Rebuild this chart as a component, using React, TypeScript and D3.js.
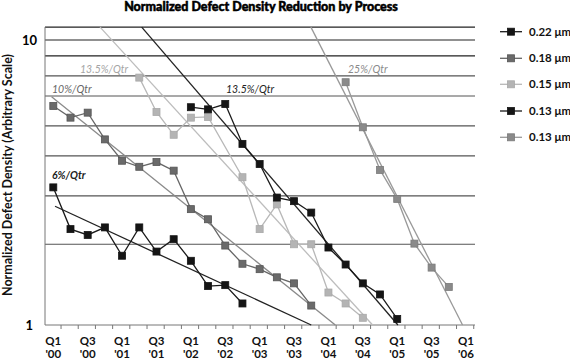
import React from "react";
import * as d3 from "d3";

// ---- data ----
const quarterLabels = ["Q1", "Q3", "Q1", "Q3", "Q1", "Q3", "Q1", "Q3", "Q1", "Q3", "Q1", "Q3", "Q1"];
const yearLabels = ["'00", "'00", "'01", "'01", "'02", "'02", "'03", "'03", "'04", "'04", "'05", "'05", "'06"];
const gridValues = [1.92, 2.84, 3.92, 5.0, 6.36, 7.48, 8.79, 10, 11.1];

const q022 = [0, 1, 2, 3, 4, 5, 6, 7, 8, 9, 10, 11];
const v022 = [3.04, 2.17, 2.07, 2.2, 1.75, 2.2, 1.81, 2.0, 1.68, 1.37, 1.38, 1.19];

const q018 = [0, 1, 2, 3, 4, 5, 6, 7, 8, 9, 10, 11, 12, 13, 14, 15];
const v018 = [5.87, 5.34, 5.56, 4.48, 3.77, 3.59, 3.73, 3.48, 2.55, 2.35, 1.9, 1.64, 1.57, 1.47, 1.4, 1.17];

const q015 = [5, 6, 7, 8, 9, 11, 12, 13, 14, 15, 16, 17, 18];
const v015 = [7.38, 5.59, 4.65, 5.34, 5.37, 3.3, 2.17, 2.65, 1.92, 1.92, 1.3, 1.19, 1.06];

const q013a = [8, 9, 10, 11, 12, 13, 14, 15, 16, 17, 18, 19, 20];
const v013a = [5.81, 5.71, 5.96, 4.32, 3.67, 2.8, 2.72, 2.48, 1.87, 1.63, 1.4, 1.28, 1.05];

const q013b = [17, 18, 19, 20, 21, 22, 23];
const v013b = [7.11, 4.94, 3.5, 2.77, 1.93, 1.59, 1.36];

const trend6: [number, number][] = [[0.1, 2.61], [15.0, 1.0]];
const trend10: [number, number][] = [[-0.1, 6.32], [16.4, 1.0]];
const trend135light: [number, number][] = [[2.72, 11.1], [18.57, 1.0]];
const trend135dark: [number, number][] = [[5.14, 11.1], [20.04, 1.0]];
const trend25: [number, number][] = [[14.98, 11.1], [23.8, 1.0]];

const legendLabels = ["0.22 μm", "0.18 μm", "0.15 μm", "0.13 μm", "0.13 μm"];
const trendLabels = ["6%/Qtr", "10%/Qtr", "13.5%/Qtr", "13.5%/Qtr", "25%/Qtr"];

export default function App() {
  const W = 570, H = 360;
  const x = d3.scaleLinear().domain([0, 24]).range([53.3, 466]);
  const y = d3.scaleLog().domain([1, 10]).range([325, 40]);
  const plotLeft = 45, plotRight = 475, plotTop = y(11.1), plotBottom = 325;

  const series = [
    { q: q022, v: v022, fill: "#151515", stroke: "#151515", line: "#1a1a1a" },
    { q: q018, v: v018, fill: "#6a6a6a", stroke: "#555", line: "#666" },
    { q: q015, v: v015, fill: "#b4b4b4", stroke: "#a8a8a8", line: "#b8b8b8" },
    { q: q013a, v: v013a, fill: "#151515", stroke: "#151515", line: "#1a1a1a" },
    { q: q013b, v: v013b, fill: "#8a8a8a", stroke: "#7a7a7a", line: "#999" },
  ];
  const trends = [
    { d: trend6, color: "#222" },
    { d: trend10, color: "#8a8a8a" },
    { d: trend135light, color: "#bdbdbd" },
    { d: trend135dark, color: "#222" },
    { d: trend25, color: "#999" },
  ];
  const trendText = [
    { x: 52, y: 179, color: "#222", weight: 700 },
    { x: 52, y: 93, color: "#666", weight: 400 },
    { x: 80, y: 73, color: "#a5a5a5", weight: 400 },
    { x: 226, y: 93, color: "#222", weight: 400 },
    { x: 348, y: 73, color: "#8a8a8a", weight: 400 },
  ];

  const line = d3.line<[number, number]>().x((d) => x(d[0])).y((d) => y(d[1]));
  const ticks = d3.range(0, 25);
  const font = "Lato, 'DejaVu Sans', sans-serif";
  const ms = 7;

  return (
    <svg width={W} height={H} style={{ position: "absolute", left: 0, top: 0, background: "#fff" }}>
      <rect width={W} height={H} fill="#fff" />
      <text x={261} y={10.5} textAnchor="middle" fontFamily={font} fontWeight={900} fontSize={12.5}
        fill="#000" stroke="#000" strokeWidth={0.5}>
        Normalized Defect Density Reduction by Process
      </text>
      {/* gridlines */}
      {gridValues.map((g, i) => (
        <line key={i} x1={plotLeft} x2={plotRight} y1={y(g)} y2={y(g)}
          stroke={g >= 8 ? "#222" : "#555"} strokeWidth={1.2} />
      ))}
      {/* axes */}
      <line x1={plotLeft} x2={plotLeft} y1={plotTop} y2={plotBottom} stroke="#777" strokeWidth={1} />
      <line x1={plotLeft} x2={plotRight} y1={plotBottom} y2={plotBottom} stroke="#777" strokeWidth={1} />
      {ticks.map((t) => (
        <line key={t} x1={x(t + 0.45)} x2={x(t + 0.45)} y1={plotBottom} y2={plotBottom + 4} stroke="#777" strokeWidth={1} />
      ))}
      {quarterLabels.map((ql, i) => (
        <g key={i} fontFamily={font} fontWeight={700} fontSize={11.5} fill="#111" textAnchor="middle">
          <text x={x(i * 2)} y={345}>{ql}</text>
          <text x={x(i * 2)} y={358}>{yearLabels[i]}</text>
        </g>
      ))}
      <text x={37} y={y(10) + 5} textAnchor="end" fontFamily={font} fontWeight={700} fontSize={13}>10</text>
      <text x={33} y={y(1) + 5} textAnchor="end" fontFamily={font} fontWeight={700} fontSize={13}>1</text>
      <text transform={`translate(12,${175}) rotate(-90)`} textAnchor="middle" fontFamily={font} fontWeight={700} fontSize={12.5} fill="#111">
        Normalized Defect Density  (Arbitrary Scale)
      </text>
      {/* trend lines */}
      {trends.map((t, i) => (
        <path key={i} d={line(t.d) || ""} fill="none" stroke={t.color} strokeWidth={1.3} />
      ))}
      {trendLabels.map((l, i) => (
        <text key={i} x={trendText[i].x} y={trendText[i].y} fontFamily={font} fontStyle="italic"
          fontWeight={trendText[i].weight} fontSize={10.5} fill={trendText[i].color}>{l}</text>
      ))}
      {/* series */}
      {series.map((s, i) => {
        const pts: [number, number][] = s.q.map((q, j) => [q, s.v[j]]);
        return (
          <g key={i}>
            <path d={line(pts) || ""} fill="none" stroke={s.line} strokeWidth={1.3} />
            {pts.map((p, j) => (
              <rect key={j} x={x(p[0]) - ms / 2} y={y(p[1]) - ms / 2} width={ms} height={ms}
                fill={s.fill} stroke={s.stroke} strokeWidth={0.8} />
            ))}
          </g>
        );
      })}
      {/* legend */}
      {legendLabels.map((l, i) => {
        const ly = [31.7, 58.3, 84.3, 111, 137.3][i];
        const s = series[i];
        return (
          <g key={i}>
            <line x1={500} x2={522} y1={ly} y2={ly} stroke={s.line} strokeWidth={1.3} />
            <rect x={511 - ms / 2} y={ly - ms / 2} width={ms} height={ms} fill={s.fill} stroke={s.stroke} strokeWidth={0.8} />
            <text x={529} y={ly + 4} fontFamily={font} fontWeight={700} fontSize={11.5} fill="#111">{l}</text>
          </g>
        );
      })}
    </svg>
  );
}
